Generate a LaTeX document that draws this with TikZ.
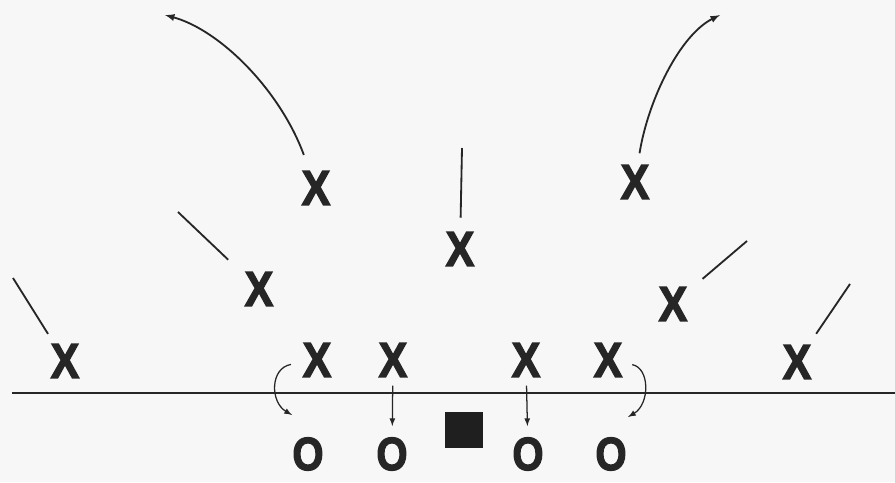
\documentclass[tikz,border=0pt]{standalone}
\usepackage{fontspec}
\setmainfont{Liberation Sans}
\newfontfamily\heavyfont[BoldFeatures={FakeBold=3}]{Liberation Sans}
\usepackage{graphicx}
\begin{document}
\begin{tikzpicture}[>=latex,x=0.025cm,y=-0.025cm,
    xplayer/.style={inner sep=0pt,text=black!85,font=\fontsize{35}{40}\heavyfont\bfseries},
    oplayer/.style={inner sep=0pt,text=black!85,font=\fontsize{33}{36}\heavyfont\bfseries},
    route/.style={line width=1.3pt,black!85},
    block/.style={line width=0.9pt,black!85}]
\useasboundingbox[fill=black!3] (0,0) rectangle (895,482);
% defense
\foreach \n/\x/\y in {xfl/65/361,xl/259/289,xtl/316/188,xm/460/249,xtr/635/182,xr/673/304,xfr/797/362,x1/317/360,x2/393/360,x3/526/360,x4/608/360}
{
    \node[xplayer] (\n) at (\x,\y) {\scalebox{0.87}[1]{X}};
}
% offense
\foreach \n/\x in {o1/308,o2/392,o3/528,o4/611}
{
    \node[oplayer] (\n) at (\x,454) {\scalebox{0.86}[1]{O}};
}
\node[fill=black!88,inner sep=0pt,minimum width=0.95cm,minimum height=0.9cm] (ball) at (464,430) {};

\draw[line width=1.8pt,black!85] (12,393)--(895,393);

\coordinate (efl) at (13,278);
\coordinate (el) at (178,212);
\coordinate (etl) at (165,15);
\coordinate (em) at (462,148);
\coordinate (etr) at (720,15);
\coordinate (er) at (747,241);
\coordinate (efr) at (850,284);
\coordinate (elc) at (292,415);
\coordinate (erc) at (628,417);

\draw[route,shorten <=8.3pt] (xfl)--(efl);
\draw[route,shorten <=16pt] (xl)--(el);
\draw[route,shorten <=10pt] (xm)--(em);
\draw[route,shorten <=14pt] (xr)--(er);
\draw[route,shorten <=9.5pt] (xfr)--(efr);
\draw[route,->,shorten <=12pt] (xtl) .. controls (280,90) and (220,30) .. (etl);
\draw[route,->,shorten <=8.3pt] (xtr) .. controls (648,100) and (680,35) .. (etr);

\draw[block,->,shorten <=8.3pt] (x1) .. controls (270,368) and (270,402) .. (elc);
\draw[block,->,shorten <=7pt] (x4) .. controls (650,368) and (650,404) .. (erc);
\draw[block,->,shorten <=6pt,shorten >=8pt] (x2)--(o2);
\draw[block,->,shorten <=6pt,shorten >=8pt] (x3)--(o3);
\end{tikzpicture}
\end{document}
